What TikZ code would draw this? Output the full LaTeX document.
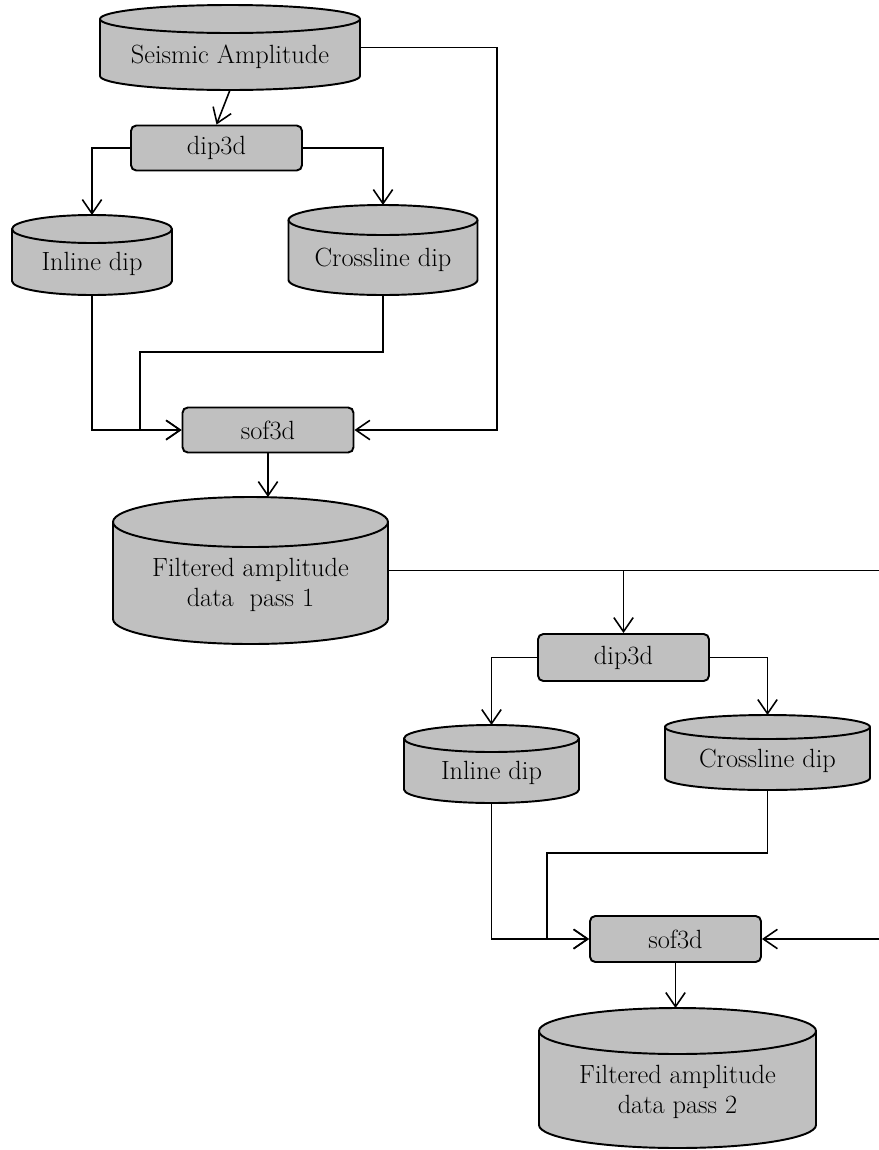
\documentclass[tikz,border=0pt]{standalone}
\usepackage{tikz}
\usetikzlibrary{arrows.meta,calc}
\definecolor{cylgray}{RGB}{192,192,192}
\tikzset{
  txt/.style     = {font=\fontsize{15}{17}\selectfont},
  dbline/.style  = {draw=black, fill=cylgray, line width=1.1pt},
  dbspan/.style  = {draw=none, fill=none, inner sep=0pt, outer sep=0pt},
  procbox/.style = {draw=black, fill=cylgray, rounded corners=3pt, line width=1.1pt, minimum width=3.42cm, minimum height=0.9cm, inner sep=0pt, txt},
  conn/.style    = {draw=black, line width=0.9pt},
  arr/.style     = {conn, -{Straight Barb[length=8pt,width=11pt,line width=0.9pt]}},
}
% #1 name, #2 centre x, #3 top y, #4 bottom y, #5 half width, #6 end radius, #7 text
\newcommand{\dbcyl}[7]{%
  \filldraw[dbline] (#2-#5,#3+#6) -- (#2-#5,#4-#6)
    arc[start angle=180, end angle=360, x radius={#5*0.02cm}, y radius={#6*0.02cm}]
    -- (#2+#5,#3+#6)
    arc[start angle=0, end angle=180, x radius={#5*0.02cm}, y radius={#6*0.02cm}] -- cycle;
  \draw[dbline, fill=none] (#2-#5,#3+#6)
    arc[start angle=180, end angle=360, x radius={#5*0.02cm}, y radius={#6*0.02cm}];
  \node[dbspan, minimum width={2*#5*0.02cm}, minimum height={(#4-#3)*0.02cm}] (#1) at (#2,{(#3+#4)/2}) {};
  \node[txt, align=center] (#1L) at (#2,{(#3+#6+#4)/2+2}) {#7};
}

\begin{document}
\begin{tikzpicture}[x=0.02cm,y=-0.02cm]
  \useasboundingbox (0,0) rectangle (879,1150);
  \clip (0,0) rectangle (879,1150);

  % ----- pass 1 -----
  \dbcyl{amp}{230}{5}{90}{130}{14}{Seismic Amplitude}
  \node[procbox] (dipA) at (216.5,148) {dip3d};
  \dbcyl{inA}{92}{215}{295}{80}{14}{Inline dip}
  \dbcyl{crA}{383}{205}{295}{94.5}{15}{Crossline dip}
  \node[procbox] (sofA) at (268,430) {sof3d};
  \dbcyl{filA}{250.5}{497}{644}{137.5}{25}{Filtered amplitude\\data\ \ pass 1}

  \coordinate (ampR) at (497,430);
  \coordinate (jA) at (140,352);

  \draw[arr] (amp.south) -- (dipA.north);
  \draw[arr] (dipA.west) -| (inA.north);
  \draw[arr] (dipA.east) -| (crA.north);
  \draw[arr] (inA.south) |- (sofA.west);
  \draw[arr] (crA.south) |- (jA) |- (sofA.west);
  \draw[arr] (amp.east) -| (ampR) -- (sofA.east);
  \draw[arr] (sofA.south) -- (sofA.south |- filA.north);

  % ----- pass 2 -----
  \node[procbox, minimum height=0.94cm] (dipB) at (623.5,657.5) {dip3d};
  \dbcyl{inB}{491.5}{725}{803}{87.5}{13.5}{Inline dip}
  \dbcyl{crB}{767.5}{715}{790}{102.5}{12}{Crossline dip}
  \node[procbox, minimum height=0.92cm] (sofB) at (675.5,939) {sof3d};
  \dbcyl{filB}{677.5}{1008}{1148}{138.5}{23}{Filtered amplitude\\data pass 2}

  \coordinate (filR) at (885,939);
  \coordinate (jB) at (547,853);

  \draw[arr] (filA.east) -| (filR) -- (sofB.east);
  \draw[arr] (dipB.north |- filA.east) -- (dipB.north);
  \draw[arr] (dipB.west) -| (inB.north);
  \draw[arr] (dipB.east) -| (crB.north);
  \draw[arr] (inB.south) |- (sofB.west);
  \draw[arr] (crB.south) |- (jB) |- (sofB.west);
  \draw[arr] (sofB.south) -- (sofB.south |- filB.north);
\end{tikzpicture}
\end{document}
